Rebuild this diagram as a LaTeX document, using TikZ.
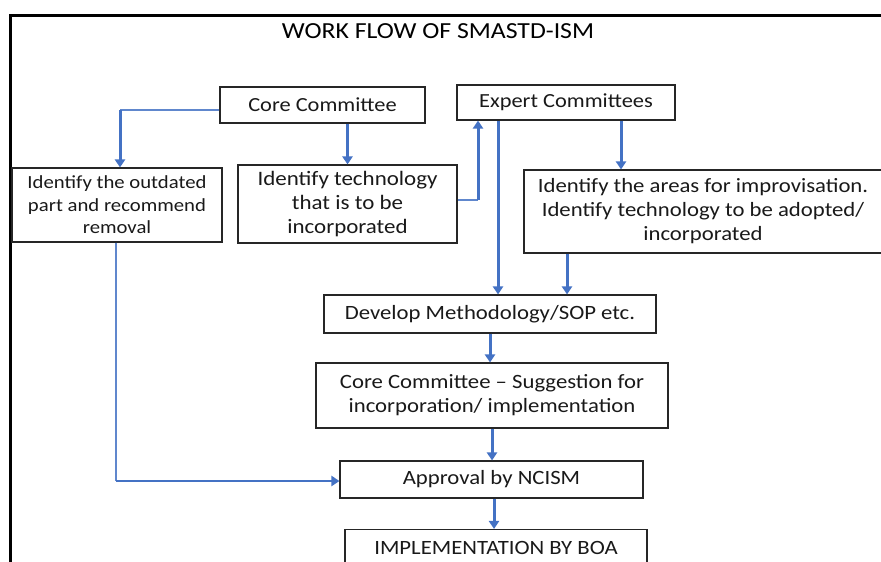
\documentclass[tikz,border=0pt]{standalone}
\usepackage{fontspec}
\setmainfont{Carlito}[FakeStretch=1.12]
\usetikzlibrary{arrows.meta,positioning}
\definecolor{flowblue}{HTML}{4472C4}
\tikzset{
  box/.style      = {draw=black!85, line width=1.1pt, inner sep=0pt, align=center, text=black!90, font=\fs{20.3}},
  line/.style     = {-{Triangle[length=8pt,width=10pt]}, flowblue, line width=3pt},
  thinline/.style = {flowblue!85, line width=1.4pt},
}
\newcommand{\fs}[1]{\fontsize{#1}{24}\selectfont}

\begin{document}
\begin{tikzpicture}[x=1pt,y=-1pt]
    \useasboundingbox (0,0) rectangle (881,562);
    \clip (0,0) rectangle (881,562);
    % outer frame
    \draw[line width=3pt] (10.5,600) -- (10.5,15.5) -- (900,15.5);
    \node[font=\fs{23}] (title) at (438,31) {WORK FLOW OF SMASTD-ISM};
    % committees
    \node[box,minimum width=205pt,minimum height=36pt,font=\fs{20}] (core) at (322.5,105) {Core Committee};
    \node[box,minimum width=218pt,minimum height=35pt,font=\fs{20}] (expert) at (566,102.5) {Expert Committees};
    % identification steps
    \node[box,minimum width=210pt,minimum height=74pt,font=\fontsize{18.5}{22.5}\selectfont] (outdated) at (117,205)
      {Identify the outdated\\ part and recommend\\ removal};
    \node[box,minimum width=219pt,minimum height=78pt,font=\fs{20.5}] (tech) at (347.5,204)
      {Identify technology\\ that is to be\\ incorporated};
    \node[box,minimum width=358pt,minimum height=83pt] (areas) at (703,211.5)
      {Identify the areas for improvisation.\\ Identify technology to be adopted/\\ incorporated};
    % main flow
    \node[box,minimum width=332pt,minimum height=38pt] (develop) at (490,314) {Develop Methodology/SOP etc.};
    \node[box,minimum width=352pt,minimum height=65pt] (suggest) at (492,395.5)
      {Core Committee -- Suggestion for\\ incorporation/ implementation};
    \node[box,minimum width=303pt,minimum height=37pt] (approval) at (491.5,479.5) {Approval by NCISM};
    \node[box,minimum width=302pt,minimum height=37pt] (impl) at (496,548) {IMPLEMENTATION BY BOA};
    % connectors
    \coordinate (k1) at (120,110);
    \draw[thinline] (core.west |- k1) -- (k1);
    \draw[line] (k1) -- (k1 |- outdated.north);
    \draw[line] (core.south -| tech.north) -- (tech.north);
    \coordinate (k2) at (478,200);
    \draw[thinline] (tech.east |- k2) -- (k2);
    \draw[line] (k2) -- (k2 |- expert.south);
    \coordinate (k3) at (498,0);
    \draw[line] (expert.south -| k3) -- (develop.north -| k3);
    \coordinate (k4) at (621,0);
    \draw[line] (expert.south -| k4) -- (areas.north -| k4);
    \coordinate (k5) at (567,0);
    \draw[line] (areas.south -| k5) -- (develop.north -| k5);
    \draw[line] (develop.south) -- (develop.south |- suggest.north);
    \draw[line] (suggest.south) -- (suggest.south |- approval.north);
    \coordinate (k6) at (494,0);
    \draw[line] (approval.south -| k6) -- (impl.north -| k6);
    \coordinate (k7) at (116,481);
    \draw[thinline] (outdated.south -| k7) -- (k7);
    \draw[line,line width=2.5pt] (k7) -- (k7 -| approval.west);
\end{tikzpicture}
\end{document}
